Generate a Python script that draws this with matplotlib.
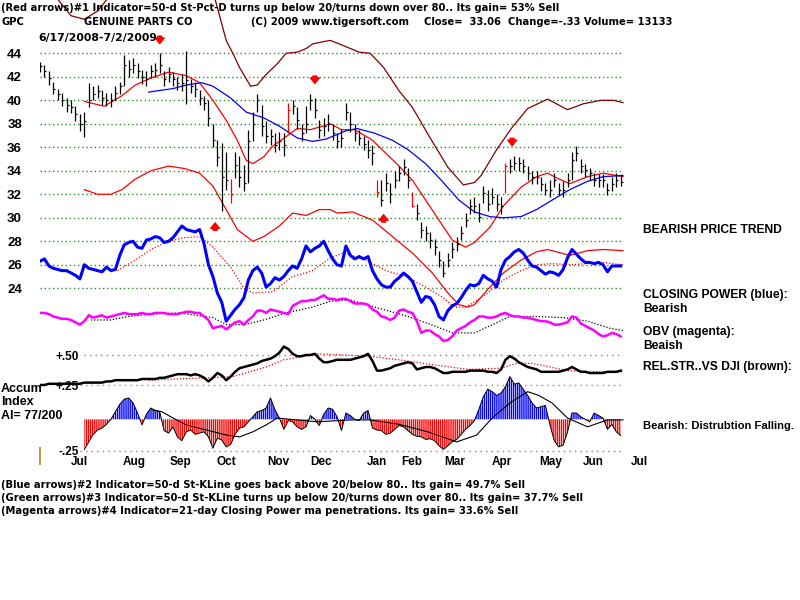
import numpy as np
import matplotlib.pyplot as plt

plt.rcParams['font.family'] = ['Liberation Sans', 'DejaVu Sans']
plt.rcParams['font.weight'] = 'bold'
plt.rcParams['hatch.linewidth'] = 1.0

# every second trading session, 6/17/2008 .. 7/2/2009 (day 0 .. 263)
days = np.arange(0, 264, 2)

close = [42.9, 42.5, 41.9, 41.0, 40.5, 40.0, 39.6, 39.4, 38.8, 38.0,
         38.2, 40.0, 40.5, 40.8, 40.2, 40.0, 40.0, 40.6, 41.2, 43.0,
         42.7, 43.0, 42.5, 42.0, 41.8, 42.5, 42.6, 43.0, 41.8, 42.2,
         41.8, 41.5, 41.5, 41.7, 41.2, 41.0, 40.2, 39.8, 38.5, 36.6,
         35.2, 33.5, 33.2, 32.0, 34.5, 33.5, 33.0, 36.5, 38.0, 40.0,
         37.8, 37.0, 37.0, 36.2, 36.5, 36.2, 39.2, 39.5, 38.3, 37.2,
         38.0, 40.0, 39.2, 37.5, 37.8, 38.0, 37.2, 36.5, 36.8, 39.0,
         38.0, 37.2, 36.8, 36.3, 35.8, 35.5, 32.2, 31.5, 33.0, 32.0,
         33.2, 33.8, 34.3, 33.2, 31.0, 30.4, 29.0, 28.7, 28.1, 27.5,
         26.4, 25.3, 26.4, 27.3, 27.8, 28.7, 29.8, 31.0, 31.0, 30.1,
         32.1, 31.2, 31.8, 31.2, 31.0, 34.4, 34.4, 34.7, 34.7, 34.4,
         33.8, 33.5, 33.5, 32.9, 32.4, 32.4, 33.2, 32.4, 32.4, 33.2,
         34.9, 35.5, 34.4, 34.1, 33.8, 33.2, 33.2, 33.2, 32.4, 32.9,
         33.2, 33.06]
high = [43.3, 43.0, 42.5, 41.6, 41.0, 40.6, 40.2, 40.0, 39.5, 38.8,
        39.0, 41.5, 41.2, 41.3, 40.9, 40.6, 40.6, 41.2, 41.6, 43.9,
        43.4, 43.6, 43.2, 42.6, 42.5, 43.0, 43.2, 44.0, 42.5, 42.8,
        42.4, 42.0, 42.2, 44.2, 41.8, 41.6, 40.9, 40.4, 40.0, 38.0,
        36.6, 36.4, 35.6, 33.3, 35.6, 35.3, 34.5, 37.5, 39.0, 40.5,
        39.6, 38.2, 37.6, 37.2, 37.3, 37.2, 39.8, 40.0, 39.4, 38.0,
        39.5, 40.5, 40.2, 38.3, 38.5, 38.8, 38.0, 37.2, 37.6, 39.8,
        39.0, 38.0, 37.5, 37.0, 36.6, 36.2, 33.2, 33.2, 33.8, 33.0,
        34.0, 34.4, 35.0, 34.2, 32.2, 31.2, 29.6, 29.3, 28.8, 28.2,
        27.2, 26.3, 27.0, 27.9, 28.4, 29.3, 30.4, 31.6, 31.8, 31.3,
        32.7, 32.4, 32.5, 32.0, 31.8, 34.7, 35.0, 35.3, 35.2, 35.0,
        34.4, 34.0, 34.0, 33.5, 33.0, 33.2, 33.8, 33.0, 33.1, 33.8,
        35.6, 36.1, 35.0, 34.6, 34.2, 33.8, 33.7, 33.7, 33.0, 33.5,
        33.8, 33.7]
low = [42.4, 42.0, 41.3, 40.5, 40.0, 39.5, 39.0, 38.9, 38.2, 37.4,
       36.9, 39.4, 40.0, 40.2, 39.6, 39.5, 39.4, 40.0, 40.5, 41.2,
       42.0, 42.3, 41.9, 41.4, 41.2, 41.9, 42.0, 42.3, 41.2, 41.6,
       41.2, 40.9, 40.8, 39.7, 40.6, 40.3, 39.6, 39.2, 37.8, 36.0,
       34.4, 30.6, 32.4, 31.3, 33.4, 32.6, 32.3, 33.0, 36.5, 39.0,
       37.0, 36.4, 36.2, 35.6, 35.8, 35.3, 37.2, 38.8, 37.6, 36.5,
       37.2, 39.2, 38.5, 36.8, 37.0, 37.4, 36.6, 35.9, 36.0, 38.3,
       37.3, 36.5, 36.2, 35.8, 35.1, 34.5, 31.8, 31.0, 32.3, 31.3,
       32.5, 33.1, 33.6, 32.5, 30.9, 29.8, 28.3, 28.0, 27.4, 26.8,
       25.8, 25.0, 25.8, 26.6, 27.2, 28.1, 29.2, 30.3, 30.4, 29.6,
       31.3, 30.6, 31.2, 30.6, 30.3, 32.1, 33.8, 34.1, 34.0, 33.8,
       33.2, 32.9, 32.9, 32.3, 31.9, 31.8, 32.6, 31.9, 31.8, 32.6,
       33.2, 34.8, 33.8, 33.5, 33.2, 32.7, 32.6, 32.6, 31.9, 32.3,
       32.6, 32.7]
red_bars = [43, 56, 76, 84, 105]

closing_power = [26.3, 26.5, 25.9, 25.7, 25.6, 25.5, 25.5, 25.3, 25.1, 24.8,
                 26.0, 25.7, 25.6, 25.5, 25.4, 25.8, 25.5, 25.6, 26.8, 27.7,
                 27.9, 28.0, 27.5, 27.4, 28.1, 28.2, 28.4, 28.3, 27.9, 28.0,
                 28.3, 28.8, 29.3, 29.0, 28.9, 28.8, 29.0, 27.8, 26.0, 25.0,
                 23.6, 22.8, 21.2, 21.7, 22.2, 22.6, 23.2, 24.7, 25.5, 25.8,
                 25.3, 24.1, 24.4, 24.9, 24.7, 25.0, 25.5, 25.9, 25.7, 26.5,
                 27.6, 27.1, 27.4, 27.6, 28.0, 27.2, 26.5, 26.0, 25.9, 27.6,
                 26.8, 26.5, 26.7, 26.5, 26.7, 25.5, 24.8, 24.3, 24.1, 24.1,
                 24.6, 24.9, 25.3, 25.0, 24.6, 23.7, 22.8, 23.3, 23.2, 22.6,
                 21.6, 21.3, 22.1, 22.5, 22.7, 23.2, 23.8, 24.3, 24.2, 24.4,
                 25.1, 24.8, 24.6, 24.1, 25.6, 26.4, 26.7, 27.1, 27.3, 27.0,
                 26.4, 25.9, 25.8, 25.5, 25.2, 25.4, 25.3, 25.1, 25.6, 26.6,
                 27.3, 26.9, 26.5, 26.2, 26.2, 26.1, 26.2, 26.0, 25.4, 25.9,
                 25.9, 25.9]
obv = [21.9, 21.9, 21.8, 21.6, 21.5, 21.4, 21.4, 21.3, 21.1, 20.9,
       21.2, 21.7, 21.5, 21.6, 21.7, 21.5, 21.6, 21.7, 21.8, 21.9,
       21.8, 21.8, 21.8, 21.9, 21.8, 21.8, 21.9, 21.9, 21.9, 21.8,
       21.8, 21.8, 21.9, 22.0, 22.0, 21.9, 21.9, 21.6, 21.3, 20.6,
       20.7, 20.8, 20.5, 20.8, 21.1, 21.2, 20.9, 21.3, 21.6, 22.1,
       22.1, 21.9, 22.2, 22.1, 22.0, 21.9, 21.8, 22.5, 22.7, 22.9,
       22.9, 23.0, 23.0, 23.2, 23.4, 23.1, 23.1, 23.0, 23.1, 23.1,
       22.9, 22.7, 22.7, 22.7, 22.6, 22.2, 22.0, 21.6, 21.5, 21.3,
       21.5, 22.1, 22.2, 22.0, 21.9, 21.2, 20.2, 20.4, 20.4, 20.1,
       19.9, 19.5, 19.6, 19.9, 20.4, 20.6, 20.8, 21.1, 21.3, 21.6,
       21.6, 21.5, 21.5, 21.6, 21.8, 21.9, 21.7, 21.6, 21.6, 21.5,
       21.5, 21.4, 21.3, 21.2, 21.2, 21.1, 20.9, 20.9, 21.0, 21.1,
       21.6, 21.5, 21.0, 20.8, 20.6, 20.4, 20.1, 19.9, 20.0, 20.2,
       20.1, 19.9]
rel_str = [0.25, 0.25, 0.26, 0.26, 0.26, 0.26, 0.26, 0.26, 0.26, 0.26,
           0.27, 0.27, 0.27, 0.27, 0.27, 0.28, 0.28, 0.29, 0.29, 0.29,
           0.29, 0.29, 0.29, 0.30, 0.30, 0.30, 0.30, 0.31, 0.31, 0.32,
           0.33, 0.34, 0.34, 0.34, 0.33, 0.34, 0.33, 0.31, 0.28, 0.31,
           0.35, 0.33, 0.29, 0.32, 0.36, 0.39, 0.40, 0.41, 0.42, 0.43,
           0.45, 0.46, 0.47, 0.49, 0.52, 0.57, 0.55, 0.51, 0.49, 0.49,
           0.50, 0.50, 0.51, 0.47, 0.44, 0.44, 0.45, 0.46, 0.46, 0.46,
           0.46, 0.47, 0.48, 0.49, 0.51, 0.45, 0.37, 0.37, 0.38, 0.39,
           0.41, 0.42, 0.43, 0.44, 0.43, 0.38, 0.39, 0.40, 0.40, 0.39,
           0.37, 0.35, 0.35, 0.36, 0.36, 0.36, 0.36, 0.37, 0.37, 0.37,
           0.37, 0.36, 0.36, 0.35, 0.38, 0.46, 0.49, 0.47, 0.44, 0.42,
           0.40, 0.39, 0.38, 0.36, 0.36, 0.36, 0.36, 0.36, 0.37, 0.38,
           0.40, 0.38, 0.36, 0.36, 0.35, 0.35, 0.35, 0.35, 0.36, 0.36,
           0.36, 0.37]
# accumulation index starts on the 11th sample
accum_start = 10
accum = [-0.24, -0.18, -0.12, -0.085, -0.07, -0.04, 0.0, 0.06, 0.12, 0.16,
         0.17, 0.13, 0.05, -0.045, 0.04, 0.09, 0.07, 0.06, -0.09, -0.11,
         -0.06, -0.14, -0.17, -0.10, -0.085, -0.12, -0.11, -0.10, -0.14, -0.23,
         -0.15, -0.165, -0.22, -0.20, -0.12, -0.07, -0.06, -0.02, 0.02, 0.06,
         0.07, 0.09, 0.17, 0.075, 0.01, -0.08, -0.01, -0.02, -0.06, -0.08,
         -0.06, 0.03, 0.0, -0.05, 0.04, 0.09, 0.08, 0.02, -0.09, 0.05,
         0.03, 0.0, -0.01, 0.05, 0.07, -0.07, -0.085, -0.09, -0.12, -0.11,
         -0.08, -0.05, -0.06, -0.09, -0.12, -0.135, -0.14, -0.16, -0.155, -0.17,
         -0.21, -0.24, -0.21, -0.18, -0.16, -0.12, -0.08, -0.05, -0.01, 0.08,
         0.18, 0.24, 0.22, 0.19, 0.21, 0.26, 0.34, 0.28, 0.29, 0.24,
         0.19, 0.13, 0.09, 0.10, 0.11, -0.04, -0.17, -0.22, -0.205, -0.10,
         0.05, 0.05, 0.02, 0.0, -0.02, 0.05, 0.03, 0.01, -0.08, -0.04,
         -0.10, -0.13]

# smooth overlays read as (day, value) points
ma21_days = [20, 29, 37, 43, 50, 58, 66, 72, 78, 84, 89, 93, 96, 101, 105, 111, 116, 122, 131, 136,
             142, 150, 156, 162, 168, 174, 180, 186, 192, 196, 203, 209, 217, 224, 229, 233, 239, 247, 254, 263]
ma21 = [39.9, 39.5, 40.4, 41.3, 41.9, 42.4, 42.1, 41.5, 40.0, 38.3, 36.6, 34.9, 34.6, 35.2, 36.1, 36.9, 37.6, 37.5, 38.0, 37.5,
        37.5, 36.6, 35.5, 34.4, 33.2, 31.5, 29.8, 28.1, 27.5, 27.9, 29.2, 31.0, 32.6, 33.5, 33.8, 33.4, 32.9, 33.5, 33.8, 33.5]
ma50_days = [49, 60, 66, 73, 78, 86, 93, 101, 108, 116, 123, 129, 138, 143, 151, 159, 166, 174, 181, 189,
             196, 203, 209, 217, 224, 231, 239, 247, 254, 263]
ma50 = [40.7, 41.0, 41.3, 41.5, 41.2, 40.2, 39.0, 38.5, 37.8, 36.8, 36.5, 36.7, 37.4, 37.6, 37.2, 36.6, 35.8, 34.6, 33.2, 31.5,
        30.5, 30.1, 30.0, 30.1, 30.7, 31.5, 32.4, 33.1, 33.5, 33.6]
upper_days = [0, 8, 14, 20, 26, 34, 50, 70, 79, 84, 87, 90, 95, 98, 102, 107, 111, 116, 120, 123, 128, 131, 135,
              144, 149, 155, 162, 168, 176, 184, 191, 196, 199, 206, 213, 220, 229, 238, 245, 253, 259, 263]
upper = [49.6, 48.6, 47.2, 46.9, 47.6, 49.5, 51.0, 51.0, 48.6, 45.1, 44.0, 42.8, 41.2, 41.3, 42.2, 43.1, 44.0, 44.1, 44.4, 44.8,
         45.0, 45.1, 44.8, 44.1, 44.0, 42.8, 40.8, 39.4, 36.8, 34.3, 32.8, 33.0, 33.6, 35.8, 37.7, 39.3, 40.1, 39.2, 39.7, 40.0,
         40.0, 39.8]
lower_days = [20, 26, 32, 37, 43, 50, 58, 65, 72, 78, 84, 89, 96, 101, 108, 114, 120, 126, 131, 134, 141, 150, 159, 168,
              177, 184, 189, 193, 196, 202, 209, 217, 224, 229, 239, 247, 254, 263]
lower = [32.4, 32.0, 32.0, 32.4, 33.3, 34.0, 34.4, 34.2, 33.8, 32.7, 30.7, 29.0, 28.0, 28.4, 29.3, 30.4, 30.2, 30.7, 30.7,
         30.4, 30.5, 29.8, 28.4, 27.0, 25.3, 23.6, 22.6, 22.4, 22.6, 23.9, 25.3, 26.4, 27.1, 27.3, 26.8, 27.2, 27.3, 27.2]
cp_ma_days = [35, 43, 50, 58, 65, 72, 78, 86, 92, 96, 105, 114, 123, 131, 137, 147, 156, 165, 174, 181, 187, 192,
              194, 202, 209, 217, 224, 231, 239, 247, 254, 263]
cp_ma = [25.5, 26.4, 27.3, 28.0, 28.3, 28.4, 27.5, 25.8, 24.0, 23.6, 23.7, 25.0, 25.5, 26.6, 27.0, 26.4, 25.5, 25.0, 24.1,
         23.3, 22.4, 22.4, 22.6, 23.6, 24.7, 25.5, 26.0, 26.1, 26.0, 26.1, 26.2, 26.0]
obv_ma_days = [23, 32, 40, 50, 63, 78, 84, 92, 101, 111, 123, 131, 140, 151, 166, 178, 186, 196, 203, 212, 224, 236,
               247, 257, 263]
obv_ma = [21.3, 21.3, 21.6, 21.8, 21.9, 21.5, 20.9, 20.9, 21.3, 21.9, 22.4, 22.9, 23.0, 22.4, 21.6, 20.8, 20.2, 20.2,
          20.8, 21.6, 21.6, 21.5, 21.2, 20.6, 20.4]
rs_ma_days = [49, 87, 102, 110, 125, 148, 162, 177, 193, 208, 215, 222, 230, 238, 247, 263]
rs_ma = [0.29, 0.32, 0.40, 0.46, 0.51, 0.49, 0.46, 0.42, 0.38, 0.39, 0.43, 0.43, 0.40, 0.37, 0.36, 0.36]
ai_ma_days = [51, 55, 60, 66, 75, 84, 90, 96, 102, 107, 113, 125, 140, 149, 162, 175, 188, 197, 204, 212, 220, 225,
              231, 238, 247, 256, 263]
ai_ma = [0.075, 0.06, 0.01, -0.045, -0.085, -0.125, -0.14, -0.10, -0.045, 0.01, 0.0, -0.02, -0.005, -0.005, -0.04,
         -0.10, -0.18, -0.125, 0.01, 0.13, 0.22, 0.19, 0.13, 0.01, -0.06, -0.005, -0.005]

# signal arrows: (day, tip price)
sell_arrows = [(54, 44.6), (124, 41.2), (213, 35.9)]
buy_arrows = [(79, 29.8), (155, 30.5)]

price_ticks = [24, 26, 28, 30, 32, 34, 36, 38, 40, 42, 44]
month_pos = [18, 42.4, 63.6, 84, 107.4, 126.7, 152, 167.8, 187.2, 208.4, 230.5, 249.4, 270.6]
month_names = ['Jul', 'Aug', 'Sep', 'Oct', 'Nov', 'Dec', 'Jan', 'Feb', 'Mar', 'Apr', 'May', 'Jun', 'Jul']

W, H = 800, 600
fig = plt.figure(figsize=(8, 6), dpi=100)
SMALL = ['DejaVu Sans']
BIG = ['Liberation Sans', 'DejaVu Sans']


def box(top, bottom):
    # axes spanning pixel columns 40..660 and the given pixel rows
    return [40 / W, 1 - bottom / H, 620 / W, (bottom - top) / H]


def put(px, py, s, size=7.2, family=SMALL, **kw):
    fig.text(px / W, 1 - py / H, s, fontsize=size, va='center', fontweight='bold',
             family=family, **kw)


ax = fig.add_axes(box(0, 345))
ax_rs = fig.add_axes(box(338, 392))
ax_ai = fig.add_axes(box(368, 455))
for a in (ax, ax_rs, ax_ai):
    a.set_xlim(0, 279.7)
    a.patch.set_visible(False)
    for s in a.spines.values():
        s.set_visible(False)
    a.tick_params(length=0)
    a.set_xticks([])
ax.set_ylim(19.17, 48.54)
ax_rs.set_ylim(0.1917, 0.6417)
ax_ai.set_ylim(-0.2842, 0.4084)

# price panel
ax.hlines(price_ticks, 0, 263, colors='#2e8b2e', linestyles=(0, (1, 2)), lw=1.0, zorder=1)
ax.set_yticks(price_ticks)
ax.set_yticklabels([str(t) for t in price_ticks], fontsize=9.5, fontweight='bold')
ax.tick_params(axis='y', pad=13)

ax.plot(upper_days, upper, color='#800000', lw=0.9)
ax.plot(lower_days, lower, color='red', lw=0.9)
ax.plot(ma21_days, ma21, color='red', lw=0.9)
ax.plot(ma50_days, ma50, color='blue', lw=0.9)

bar_colors = ['red' if i in red_bars else 'black' for i in range(len(days))]
ax.vlines(days, low, high, colors=bar_colors, lw=0.9, zorder=3)
ax.hlines(close, days, days + 0.9, colors=bar_colors, lw=0.9, zorder=3)

arrow_style = 'simple,head_length=0.5,head_width=0.8,tail_width=0.35'
for d, tip in sell_arrows:
    ax.annotate('', xy=(d, tip), xytext=(d, tip + 1.1),
                arrowprops=dict(arrowstyle=arrow_style, color='red', mutation_scale=8))
for d, tip in buy_arrows:
    ax.annotate('', xy=(d, tip), xytext=(d, tip - 1.1),
                arrowprops=dict(arrowstyle=arrow_style, color='red', mutation_scale=8))

# closing power and OBV share the price panel
ax.plot(cp_ma_days, cp_ma, color='red', lw=0.9, ls=(0, (1, 1.5)))
ax.plot(days, closing_power, color='blue', lw=2.2)
ax.plot(obv_ma_days, obv_ma, color='black', lw=0.9, ls=(0, (1, 1.5)))
ax.plot(days, obv, color='#ff00ff', lw=1.8)

# relative strength panel
ax_rs.hlines([0.5], 20, 263, colors='#a070a0', linestyles=(0, (1, 3)), lw=1.0)
ax_rs.hlines([0.25], 18, 263, colors='#909090', linestyles=(0, (1, 3)), lw=1.0)
ax_rs.plot(rs_ma_days, rs_ma, color='red', lw=0.9, ls=(0, (1, 1.5)))
ax_rs.plot(days, rel_str, color='black', lw=1.8)
ax_rs.set_yticks([0.25, 0.5])
ax_rs.set_yticklabels(['+.25', '+.50'], fontsize=8.5, fontweight='bold')
ax_rs.tick_params(axis='y', pad=-28)

# accumulation index panel
ai_days = days[accum_start:]
ai_vals = np.array(accum)
ax_ai.hlines([-0.25], 18, 263, colors='#a070a0', linestyles=(0, (1, 3)), lw=1.0)
ax_ai.fill_between(ai_days, 0, ai_vals, where=ai_vals <= 0, interpolate=True,
                   facecolor='none', edgecolor='red', hatch='|' * 8, lw=0)
ax_ai.fill_between(ai_days, 0, ai_vals, where=ai_vals >= 0, interpolate=True,
                   facecolor='none', edgecolor='blue', hatch='|' * 8, lw=0)
ax_ai.plot(ai_days, ai_vals, color='black', lw=0.7)
ax_ai.plot(ai_ma_days, ai_ma, color='black', lw=0.8)
ax_ai.vlines(0, -0.364, -0.22, colors='#a09020', lw=1.2, clip_on=False)
ax_ai.set_yticks([-0.25])
ax_ai.set_yticklabels(['-.25'], fontsize=8.5, fontweight='bold')
ax_ai.tick_params(axis='y', pad=-28)
ax_ai.set_xticks(month_pos)
ax_ai.set_xticklabels(month_names, fontsize=8.5, fontweight='bold')
ax_ai.tick_params(axis='x', pad=1)

# header
put(1, 8, '(Red arrows)#1 Indicator=50-d St-Pct-D turns up below 20/turns down over 80.. Its gain= 53% Sell')
put(2, 22, 'GPC')
put(84, 22, 'GENUINE PARTS CO')
put(251, 22, '(C) 2009 www.tigersoft.com')
put(424, 22, 'Close=  33.06  Change=-.33 Volume= 13133')
put(38, 38, '6/17/2008-7/2/2009', size=7.8)

# right-hand notes
put(643, 230, 'BEARISH PRICE TREND', size=8.7, family=BIG)
put(643, 295, 'CLOSING POWER (blue):', size=8.7, family=BIG)
put(643, 309, 'Bearish', size=8.7, family=BIG)
put(643, 332, 'OBV (magenta):', size=8.7, family=BIG)
put(643, 346, 'Beaish', size=8.7, family=BIG)
put(643, 367, 'REL.STR..VS DJI (brown):', size=8.7, family=BIG)
put(643, 426, 'Bearish: Distrubtion Falling.', size=8.1, family=BIG)

# left labels of the accumulation panel
put(1, 389, 'Accum', size=9, family=BIG)
put(1, 402, 'Index', size=9, family=BIG)
put(1, 416, 'AI= 77/200', size=9, family=BIG)

# footer
put(1, 485, '(Blue arrows)#2 Indicator=50-d St-KLine goes back above 20/below 80.. Its gain= 49.7% Sell')
put(1, 498, '(Green arrows)#3 Indicator=50-d St-KLine turns up below 20/turns down over 80.. Its gain= 37.7% Sell')
put(1, 511, '(Magenta arrows)#4 Indicator=21-day Closing Power ma penetrations. Its gain= 33.6% Sell')

fig.savefig('out.png', dpi=100)
